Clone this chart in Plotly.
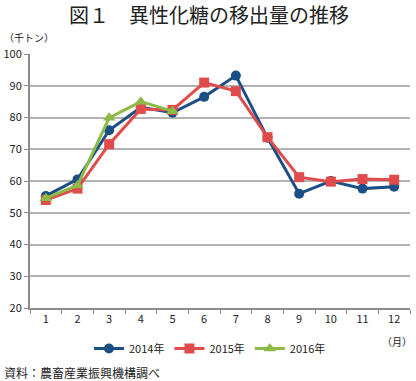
import plotly.graph_objects as go

months = [str(i) for i in range(1, 13)]
y2014 = [55.3, 60.5, 76.0, 83.2, 81.5, 86.5, 93.2, 73.6, 56.0, 60.0, 57.6, 58.2]
y2015 = [54.0, 57.6, 71.6, 82.7, 82.4, 91.0, 88.3, 73.8, 61.2, 59.8, 60.6, 60.4]
y2016 = [54.6, 58.6, 79.9, 85.0, 82.0]

FONT = "Noto Sans CJK JP"
C14 = "#1B4F85"
C15 = "#E04B4B"
C16 = "#8DBA46"

fig = go.Figure()
fig.add_trace(go.Scatter(x=months, y=y2014, name="2014年", mode="lines+markers",
                         line=dict(color=C14, width=3), marker=dict(symbol="circle", size=10, color=C14)))
fig.add_trace(go.Scatter(x=months, y=y2015, name="2015年", mode="lines+markers",
                         line=dict(color=C15, width=3), marker=dict(symbol="square", size=10, color=C15)))
fig.add_trace(go.Scatter(x=months[:len(y2016)], y=y2016, name="2016年", mode="lines+markers",
                         line=dict(color=C16, width=3), marker=dict(symbol="triangle-up", size=11, color=C16)))

ph = 381 - 54 - 73
pw = 416 - 30 - 6
def py(pix):
    return (381 - 73 - pix) / ph
def px(pix):
    return (pix - 30) / pw

fig.update_layout(
    width=416, height=381,
    margin=dict(l=30, r=6, t=54, b=73, autoexpand=False),
    paper_bgcolor="white", plot_bgcolor="white",
    font=dict(family=FONT, size=11, color="#222222"),
    showlegend=True,
    legend=dict(orientation="h", x=px(210), xanchor="center", y=py(334), yanchor="top",
                font=dict(size=11, family=FONT), itemwidth=30, tracegroupgap=0),
    xaxis=dict(type="category", range=[-0.5, 11.5], showgrid=False,
               showline=True, linecolor="#8c8c8c", linewidth=2,
               ticks="outside", tickson="boundaries", ticklen=4, tickcolor="#8c8c8c",
               tickfont=dict(size=11, family=FONT, color="#222222"), fixedrange=True),
    yaxis=dict(range=[20, 100], dtick=10, showgrid=True, gridcolor="#b3b3b3", gridwidth=1.5,
               showline=True, linecolor="#8c8c8c", linewidth=2,
               ticks="outside", ticklen=4, tickcolor="#8c8c8c",
               tickfont=dict(size=11, family=FONT, color="#222222"), zeroline=False, fixedrange=True),
    annotations=[
        dict(text="図１　異性化糖の移出量の推移", x=px(209), xref="paper", y=py(14), yref="paper",
             xanchor="center", yanchor="middle",
             showarrow=False, font=dict(size=20, family=FONT, color="#222222")),
        dict(text="（千トン）", x=px(2), xref="paper", y=py(38), yref="paper",
             xanchor="left", yanchor="middle", showarrow=False,
             font=dict(size=10, family=FONT)),
        dict(text="（月）", x=px(414), xref="paper", y=py(341), yref="paper",
             xanchor="right", yanchor="middle", showarrow=False,
             font=dict(size=10, family=FONT)),
        dict(text="資料：農畜産業振興機構調べ", x=px(2), xref="paper", y=py(372), yref="paper",
             xanchor="left", yanchor="middle",
             showarrow=False, font=dict(size=12, family=FONT)),
    ],
)

fig.write_html("out.html", config={"displayModeBar": False},
               post_script="document.body.style.margin='0px';document.body.style.overflow='hidden';")
